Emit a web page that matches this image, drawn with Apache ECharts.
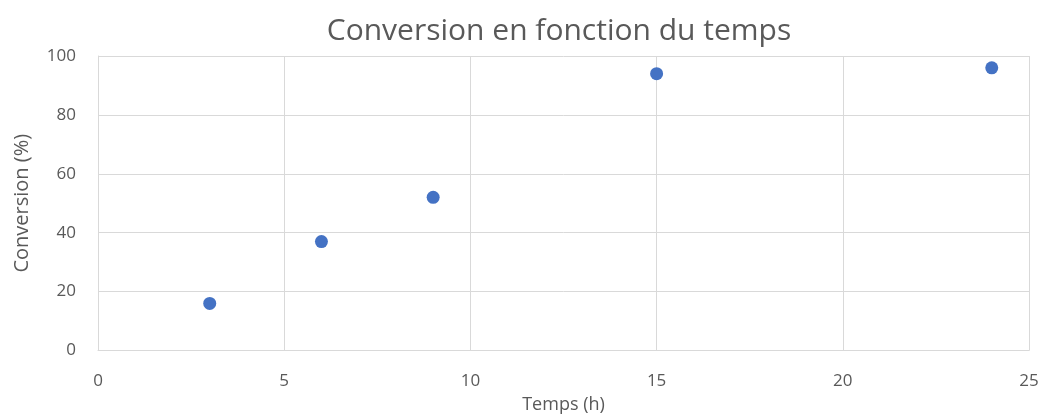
<!DOCTYPE html>
<html>
<head>
<meta charset="utf-8">
<script src="https://cdn.jsdelivr.net/npm/echarts@6/dist/echarts.min.js"></script>
<style>
  html, body { margin: 0; padding: 0; background: #fff; overflow: hidden; }
  #chart { width: 1048px; height: 414px; }
</style>
</head>
<body>
<div id="chart"></div>
<script>
// Reaction time (h) and measured conversion (%)
const temps = [3, 6, 9, 15, 24];
const conversion = [16, 37, 52, 94, 96];
const xTicks = [0, 5, 10, 15, 20, 25];
const yTicks = [0, 20, 40, 60, 80, 100];

const FONT = '"Open Sans", "Liberation Sans", sans-serif';
const TEXT = '#595959';
const GRID = '#d9d9d9';

const chart = echarts.init(document.getElementById('chart'), null, { renderer: 'canvas', width: 1048, height: 414 });

chart.setOption({
  animation: false,
  backgroundColor: '#ffffff',
  title: {
    text: 'Conversion en fonction du temps',
    left: 554,
    top: 11,
    textAlign: 'center',
    textStyle: { fontFamily: FONT, fontSize: 30, fontWeight: 'normal', color: TEXT }
  },
  grid: {
    left: 98, right: 19, top: 56, bottom: 63.5,
    containLabel: false,
    outerBoundsMode: 'none'
  },
  xAxis: {
    type: 'value',
    min: xTicks[0],
    max: xTicks[xTicks.length - 1],
    interval: 5,
    name: 'Temps (h)',
    nameLocation: 'middle',
    nameGap: 45,
    nameTextStyle: { fontFamily: FONT, fontSize: 18, color: TEXT },
    axisLine: { show: true, lineStyle: { color: GRID, width: 1 } },
    axisTick: { show: false },
    splitLine: { show: true, lineStyle: { color: GRID, width: 1 } },
    axisLabel: { fontFamily: FONT, fontSize: 17, color: TEXT, margin: 22 }
  },
  yAxis: {
    type: 'value',
    min: yTicks[0],
    max: yTicks[yTicks.length - 1],
    interval: 20,
    name: 'Conversion (%)',
    nameLocation: 'middle',
    nameGap: 66,
    nameRotate: 90,
    nameTextStyle: { fontFamily: FONT, fontSize: 20, color: TEXT },
    axisLine: { show: true, lineStyle: { color: GRID, width: 1 } },
    axisTick: { show: false },
    splitLine: { show: true, lineStyle: { color: GRID, width: 1 } },
    axisLabel: { fontFamily: FONT, fontSize: 17, color: TEXT, margin: 22 }
  },
  series: [{
    type: 'scatter',
    data: temps.map((t, i) => [t, conversion[i]]),
    symbol: 'circle',
    symbolSize: 13,
    itemStyle: { color: '#4472C4', opacity: 1 }
  }]
});
</script>
</body>
</html>
